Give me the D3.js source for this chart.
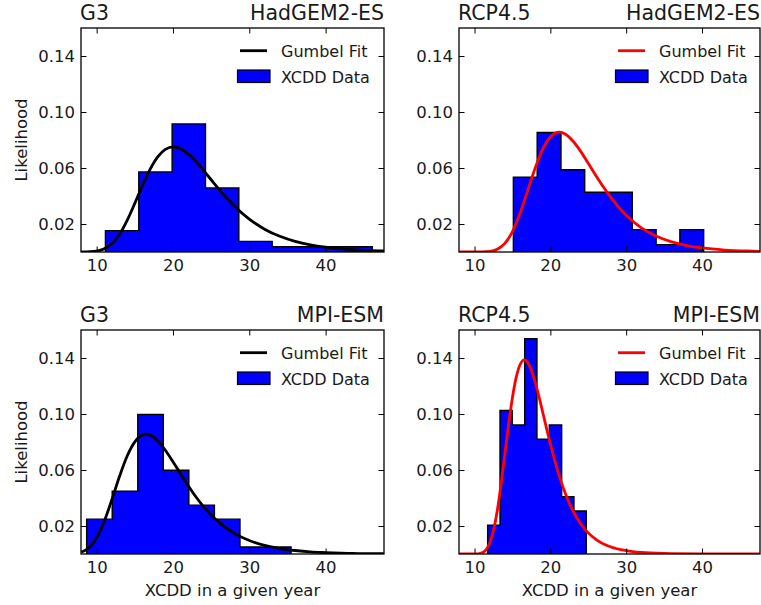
<!DOCTYPE html>
<html>
<head>
<meta charset="utf-8">
<script src="https://cdnjs.cloudflare.com/ajax/libs/d3/7.8.5/d3.min.js"></script>
<style>
  body { margin: 0; background: #fff; }
  svg text { font-family: "DejaVu Sans", sans-serif; fill: #1a1a1a; }
</style>
</head>
<body>
<svg id="chart" width="761" height="605"></svg>
<script>
// tick values shared by all four panels
var xTicks = [10, 20, 30, 40];
var yTicks = [0.02, 0.06, 0.10, 0.14];
var xDomain = [7.95, 47.65];
var yDomain = [0, 0.16];

// G3 / HadGEM2-ES
var g3HadEdges = [11.15, 15.52, 19.89, 24.26, 28.63, 33.0, 37.37, 41.74, 46.11];
var g3HadDensity = [0.0153, 0.0572, 0.0915, 0.0458, 0.0076, 0.0038, 0.0038, 0.0038];
var g3HadFitX = [8, 10, 11, 12, 13, 14, 15, 16, 17, 18, 19, 20.05, 21, 22, 23, 24, 25, 26, 27, 28, 30, 32, 34, 36, 38, 40, 43, 46, 47.65];
var g3HadFitY = [0.0, 0.0007, 0.0023, 0.0060, 0.0127, 0.0226, 0.0347, 0.0475, 0.0590, 0.0679, 0.0733, 0.0751, 0.0738, 0.0700, 0.0646, 0.0583, 0.0516, 0.0450, 0.0388, 0.0331, 0.0235, 0.0163, 0.0112, 0.0076, 0.0051, 0.0034, 0.0019, 0.0010, 0.0007];

// RCP4.5 / HadGEM2-ES
var rcpHadEdges = [15.12, 18.26, 21.40, 24.53, 27.67, 30.81, 33.95, 37.08, 40.22];
var rcpHadDensity = [0.0534, 0.0854, 0.0587, 0.0427, 0.0427, 0.0160, 0.0053, 0.0160];
var rcpHadFitX = [8, 10, 12, 13, 14, 15, 16, 17, 18, 19, 20, 21.18, 22, 23, 24, 25, 26, 27, 28, 29, 30, 32, 34, 36, 38, 40, 43, 46, 47.65];
var rcpHadFitY = [0.0, 0.0, 0.0004, 0.0019, 0.0061, 0.0146, 0.0276, 0.0437, 0.0600, 0.0734, 0.0821, 0.0856, 0.0841, 0.0791, 0.0719, 0.0634, 0.0547, 0.0464, 0.0388, 0.0321, 0.0263, 0.0173, 0.0112, 0.0072, 0.0046, 0.0029, 0.0014, 0.0007, 0.0005];

// G3 / MPI-ESM
var g3MpiEdges = [8.69, 12.04, 15.39, 18.73, 22.08, 25.43, 28.78, 32.12, 35.47];
var g3MpiDensity = [0.0249, 0.0448, 0.0996, 0.0598, 0.0349, 0.0249, 0.0050, 0.0050];
var g3MpiFitX = [8, 9, 10, 11, 12, 13, 14, 15, 16, 16.47, 17, 18, 19, 20, 21, 22, 23, 24, 25, 26, 28, 30, 32, 34, 36, 38, 40, 43, 46, 47.65];
var g3MpiFitY = [0.0013, 0.0045, 0.0116, 0.0234, 0.0389, 0.0555, 0.0700, 0.0801, 0.0850, 0.0856, 0.0849, 0.0809, 0.0741, 0.0659, 0.0572, 0.0488, 0.0409, 0.0339, 0.0279, 0.0228, 0.0149, 0.0096, 0.0061, 0.0039, 0.0025, 0.0015, 0.0010, 0.0005, 0.0002, 0.0002];

// RCP4.5 / MPI-ESM
var rcpMpiEdges = [11.73, 13.36, 14.98, 16.61, 18.23, 19.86, 21.49, 23.11, 24.74];
var rcpMpiDensity = [0.0205, 0.1025, 0.0922, 0.1537, 0.0820, 0.0922, 0.0410, 0.0307];
var rcpMpiFitX = [8, 10, 11, 12, 12.5, 13, 13.5, 14, 14.5, 15, 15.5, 16, 16.57, 17, 17.5, 18, 18.5, 19, 20, 21, 22, 23, 24, 25, 26, 28, 30, 32, 35, 40, 47.65];
var rcpMpiFitY = [0.0, 0.0, 0.0009, 0.0078, 0.0169, 0.0311, 0.0498, 0.0713, 0.0928, 0.1118, 0.1263, 0.1352, 0.1386, 0.1369, 0.1312, 0.1227, 0.1123, 0.1011, 0.0786, 0.0588, 0.0428, 0.0306, 0.0216, 0.0151, 0.0105, 0.0050, 0.0024, 0.0011, 0.0004, 0.0001, 0.0];

var panels = [
  {left: "G3", right: "HadGEM2-ES", edges: g3HadEdges, dens: g3HadDensity, fx: g3HadFitX, fy: g3HadFitY, color: "#000000", x0: 81, x1: 384, y0: 28, y1: 252, ylab: true, xlab: false},
  {left: "RCP4.5", right: "HadGEM2-ES", edges: rcpHadEdges, dens: rcpHadDensity, fx: rcpHadFitX, fy: rcpHadFitY, color: "#ff0000", x0: 459, x1: 760, y0: 28, y1: 252, ylab: false, xlab: false},
  {left: "G3", right: "MPI-ESM", edges: g3MpiEdges, dens: g3MpiDensity, fx: g3MpiFitX, fy: g3MpiFitY, color: "#000000", x0: 81, x1: 384, y0: 330, y1: 554, ylab: true, xlab: true},
  {left: "RCP4.5", right: "MPI-ESM", edges: rcpMpiEdges, dens: rcpMpiDensity, fx: rcpMpiFitX, fy: rcpMpiFitY, color: "#ff0000", x0: 459, x1: 760, y0: 330, y1: 554, ylab: false, xlab: true}
];

var svg = d3.select("#chart");
var tickLen = 5.5;

panels.forEach(function (p, i) {
  var w = p.x1 - p.x0, h = p.y1 - p.y0;
  var x = d3.scaleLinear().domain(xDomain).range([0, w]);
  var y = d3.scaleLinear().domain(yDomain).range([h, 0]);

  var g = svg.append("g").attr("transform", "translate(" + p.x0 + "," + p.y0 + ")");

  g.append("clipPath").attr("id", "clip" + i)
    .append("rect").attr("width", w).attr("height", h);

  var marks = g.append("g").attr("clip-path", "url(#clip" + i + ")");

  // stepfilled histogram
  var pts = p.dens.map(function (d, k) { return [p.edges[k], d]; });
  pts.push([p.edges[p.edges.length - 1], p.dens[p.dens.length - 1]]);
  var area = d3.area()
    .curve(d3.curveStepAfter)
    .x(function (d) { return x(d[0]); })
    .y0(y(0))
    .y1(function (d) { return y(d[1]); });
  marks.append("path").datum(pts)
    .attr("d", area)
    .attr("fill", "#0000ff")
    .attr("stroke", "#000")
    .attr("stroke-width", 1.4)
    .attr("stroke-linejoin", "miter");

  // gumbel fit
  var line = d3.line()
    .curve(d3.curveMonotoneX)
    .x(function (d) { return x(d[0]); })
    .y(function (d) { return y(d[1]); });
  marks.append("path").datum(p.fx.map(function (v, k) { return [v, p.fy[k]]; }))
    .attr("d", line)
    .attr("fill", "none")
    .attr("stroke", p.color)
    .attr("stroke-width", 2.8);

  // axes, ticks inside on all four sides
  var bottom = g.append("g").attr("transform", "translate(0," + h + ")")
    .call(d3.axisBottom(x).tickValues(xTicks).tickSizeInner(-tickLen).tickSizeOuter(0).tickPadding(7.3).tickFormat(d3.format("d")));
  var top = g.append("g")
    .call(d3.axisTop(x).tickValues(xTicks).tickSizeInner(-tickLen).tickSizeOuter(0).tickFormat(""));
  var leftAx = g.append("g")
    .call(d3.axisLeft(y).tickValues(yTicks).tickSizeInner(-tickLen).tickSizeOuter(0).tickPadding(6).tickFormat(d3.format(".2f")));
  var rightAx = g.append("g").attr("transform", "translate(" + w + ",0)")
    .call(d3.axisRight(y).tickValues(yTicks).tickSizeInner(-tickLen).tickSizeOuter(0).tickFormat(""));

  [bottom, top, leftAx, rightAx].forEach(function (a) {
    a.select(".domain").remove();
    a.selectAll(".tick line").attr("stroke", "#000").attr("stroke-width", 1);
    a.selectAll("text").attr("font-size", "16.5px").attr("fill", "#1a1a1a")
      .style("font-family", "'DejaVu Sans', sans-serif");
  });

  g.append("rect").attr("width", w).attr("height", h)
    .attr("fill", "none").attr("stroke", "#000").attr("stroke-width", 1.3);

  // titles
  g.append("text").attr("x", -1).attr("y", -8).attr("font-size", "20.5px").text(p.left);
  g.append("text").attr("x", w).attr("y", -8).attr("text-anchor", "end").attr("font-size", "20.5px").text(p.right);

  // legend
  var lg = g.append("g").attr("transform", "translate(155.5,0)");
  lg.append("line").attr("x1", 3.5).attr("x2", 30.5).attr("y1", 22.7).attr("y2", 22.7)
    .attr("stroke", p.color).attr("stroke-width", 2.8);
  lg.append("text").attr("x", 44.5).attr("y", 29).attr("font-size", "16px").text("Gumbel Fit");
  lg.append("rect").attr("x", 1).attr("y", 42).attr("width", 32.5).attr("height", 12.5)
    .attr("fill", "#0000ff").attr("stroke", "#000").attr("stroke-width", 1.2);
  lg.append("text").attr("x", 44.5).attr("y", 54.5).attr("font-size", "16px").text("XCDD Data");

  if (p.ylab) {
    svg.append("text")
      .attr("transform", "translate(26.5," + (p.y0 + h / 2) + ") rotate(-90)")
      .attr("text-anchor", "middle").attr("font-size", "16.5px").text("Likelihood");
  }
  if (p.xlab) {
    svg.append("text")
      .attr("x", p.x0 + w / 2).attr("y", 595.5)
      .attr("text-anchor", "middle").attr("font-size", "16.5px").text("XCDD in a given year");
  }
});
</script>
</body>
</html>
